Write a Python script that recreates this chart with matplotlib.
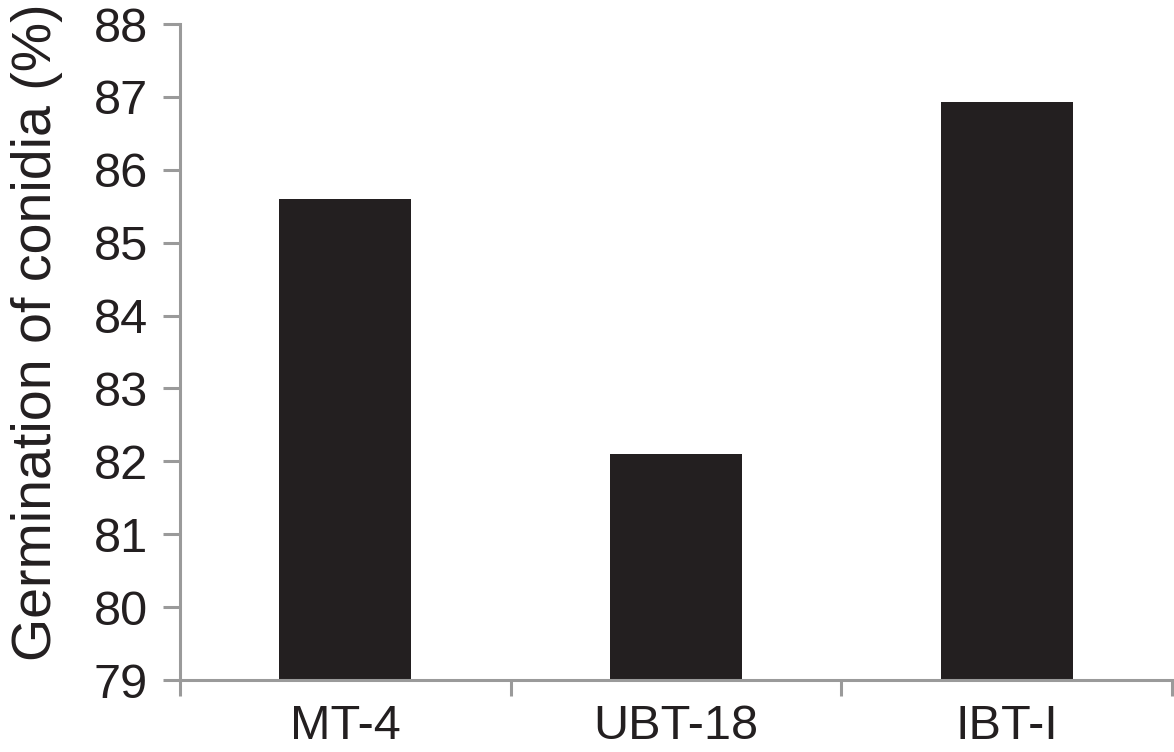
import matplotlib
matplotlib.use("Agg")
import matplotlib.pyplot as plt
from matplotlib.ticker import FixedLocator

categories = ["MT-4", "UBT-18", "IBT-I"]
values = [85.6, 82.1, 86.93]
y_ticks = [79, 80, 81, 82, 83, 84, 85, 86, 87, 88]
y_label = "Germination of conidia (%)"

plt.rcParams['font.family'] = ['Liberation Sans', 'DejaVu Sans']

fig = plt.figure(figsize=(11.74, 7.52), dpi=100)
ax = fig.add_axes([180/1174, 1 - 680/752, (1172-180)/1174, (680-24)/752])

x = list(range(len(categories)))
ax.bar(x, values, width=0.4, color="#231f20", zorder=1)

ax.set_xlim(-0.5, len(categories) - 0.5)
ax.set_ylim(79, 88)
ax.set_yticks(y_ticks)
ax.set_xticks(x)
ax.set_xticklabels(categories)
ax.xaxis.set_minor_locator(FixedLocator([i - 0.5 for i in range(len(categories) + 1)]))

axis_color = "#9a9a9a"
for s in ["top", "right"]:
    ax.spines[s].set_visible(False)
for s in ["left", "bottom"]:
    ax.spines[s].set_color(axis_color)
    ax.spines[s].set_linewidth(2.2)
    ax.spines[s].set_zorder(3)

ax.tick_params(axis="y", which="major", direction="out", length=12, width=2.2,
               color=axis_color, labelsize=35, pad=11, labelcolor="#231f20")
ax.tick_params(axis="x", which="major", length=0, labelsize=35, pad=17,
               labelcolor="#231f20")
ax.tick_params(axis="x", which="minor", direction="out", length=11.5, width=2.2,
               color=axis_color)

ax.set_ylabel(y_label, fontsize=40, color="#231f20", labelpad=22)
ax.yaxis.label.set_y(0.53)

fig.savefig("out.png", dpi=100)
